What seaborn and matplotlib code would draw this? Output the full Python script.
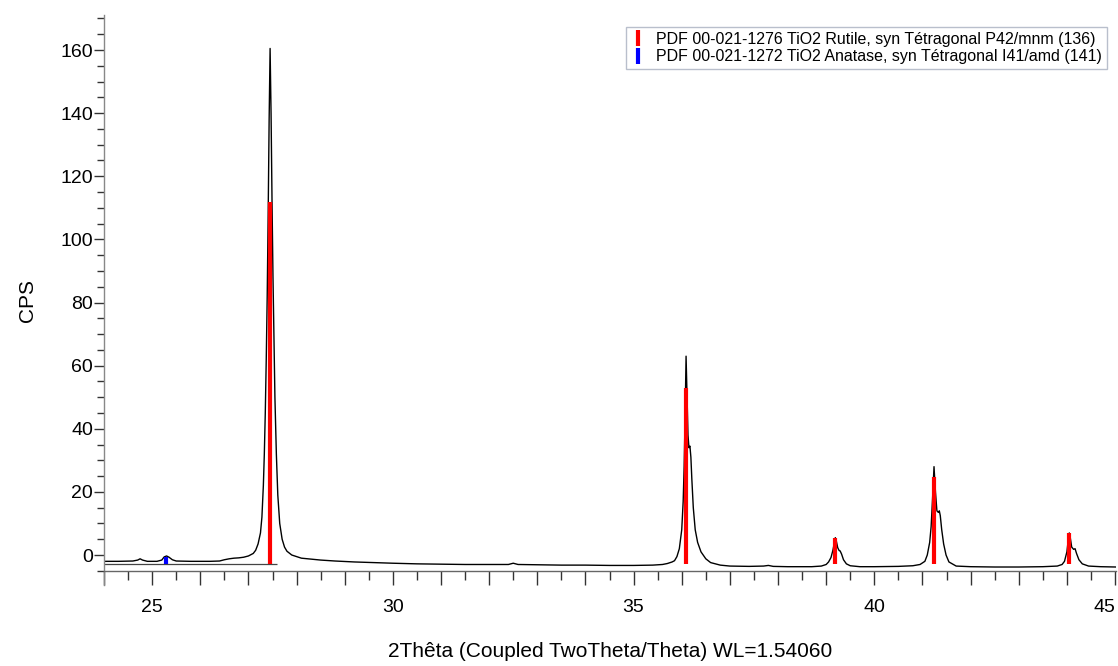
import matplotlib
matplotlib.use("Agg")
import matplotlib.pyplot as plt
from matplotlib.lines import Line2D
from matplotlib.ticker import MultipleLocator, FixedLocator
import seaborn as sns
import pandas as pd

two_theta = [
    24.00, 24.30, 24.60, 24.70, 24.75, 24.80, 24.90, 25.10, 25.20, 25.25, 25.30, 25.35, 25.42, 25.50,
    25.80, 26.20, 26.40, 26.50, 26.60, 26.70, 26.80, 26.90, 27.00, 27.10, 27.15, 27.20, 27.25, 27.28,
    27.31, 27.33, 27.35, 27.37, 27.39, 27.41, 27.43, 27.45, 27.47, 27.49, 27.51, 27.53, 27.55, 27.58,
    27.61, 27.65, 27.70, 27.75, 27.80, 27.90, 28.10, 28.50, 28.80, 29.20, 29.60, 30.00, 30.50, 31.00,
    31.50, 32.00, 32.40, 32.50, 32.60, 33.00, 33.50, 34.00, 34.50, 35.00, 35.40, 35.60, 35.70, 35.80,
    35.85, 35.90, 35.95, 36.00, 36.03, 36.05, 36.07, 36.09, 36.11, 36.13, 36.15, 36.17, 36.19, 36.21,
    36.24, 36.28, 36.33, 36.40, 36.50, 36.60, 36.80, 37.00, 37.40, 37.70, 37.80, 37.90, 38.20, 38.50,
    38.70, 38.90, 39.00, 39.05, 39.10, 39.14, 39.17, 39.19, 39.21, 39.24, 39.27, 39.29, 39.32, 39.36,
    39.42, 39.50, 39.70, 40.00, 40.50, 40.80, 40.95, 41.05, 41.10, 41.15, 41.18, 41.21, 41.24, 41.27,
    41.30, 41.33, 41.35, 41.37, 41.40, 41.44, 41.49, 41.55, 41.70, 42.00, 42.50, 43.00, 43.50, 43.80,
    43.90, 43.95, 44.00, 44.03, 44.05, 44.07, 44.10, 44.14, 44.17, 44.20, 44.25, 44.32, 44.45, 44.70,
    45.02,
]
cps = [
    -2.0, -2.0, -1.9, -1.6, -1.2, -1.6, -2.0, -2.0, -1.6, -0.6, -0.3, -0.7, -1.5, -1.9,
    -2.0, -2.0, -1.9, -1.5, -1.2, -1.0, -0.9, -0.7, -0.3, 0.5, 1.5, 3.5, 7.0, 12.0,
    22.0, 32.0, 45.0, 62.0, 82.0, 108.0, 138.0, 160.5, 140.0, 112.0, 88.0, 68.0, 50.0, 32.0,
    19.0, 10.0, 5.0, 2.5, 1.2, 0.0, -1.0, -1.6, -1.9, -2.2, -2.4, -2.6, -2.8, -2.9,
    -3.0, -3.0, -3.0, -2.6, -3.0, -3.1, -3.2, -3.2, -3.3, -3.3, -3.2, -3.0, -2.7, -2.2,
    -1.8, -0.5, 2.0, 8.0, 17.0, 28.0, 44.0, 63.0, 50.0, 38.0, 34.0, 34.5, 31.0, 24.0,
    15.0, 8.0, 4.0, 1.0, -1.2, -2.4, -3.2, -3.5, -3.6, -3.5, -3.3, -3.6, -3.7, -3.7,
    -3.7, -3.5, -3.0, -2.2, -0.8, 1.5, 4.0, 5.5, 4.5, 2.3, 1.4, 1.3, 0.3, -1.5,
    -2.8, -3.4, -3.7, -3.7, -3.6, -3.4, -3.0, -2.0, 0.0, 4.0, 9.0, 18.0, 28.0, 20.0,
    14.0, 13.5, 14.0, 12.5, 8.0, 3.5, 0.0, -2.2, -3.5, -3.7, -3.8, -3.8, -3.7, -3.5,
    -3.0, -2.0, 1.0, 5.0, 7.0, 5.5, 2.5, 1.8, 2.0, 0.5, -1.5, -2.8, -3.5, -3.7,
    -3.8,
]

# ---- reference patterns (stick positions / stick tops in CPS) ----
rutile_pos = [27.45, 36.09, 39.19, 41.23, 44.05]
rutile_top = [112.0, 53.0, 5.3, 24.8, 7.1]
anatase_pos = [25.28, 36.95, 37.80, 38.58]
anatase_top = [-0.6, -3.0, -2.7, -3.0]
stick_base = -2.8

rutile_label = "PDF 00-021-1276 TiO2 Rutile, syn Tétragonal P42/mnm (136)"
anatase_label = "PDF 00-021-1272 TiO2 Anatase, syn Tétragonal I41/amd (141)"
x_label = "2Thêta (Coupled TwoTheta/Theta) WL=1.54060"
y_label = "CPS"
x_ticklabels = [25, 30, 35, 40, 45]
y_ticklabels = [0, 20, 40, 60, 80, 100, 120, 140, 160]

sns.set_style("ticks")
plt.rcParams["font.family"] = ["Liberation Sans", "DejaVu Sans"]
plt.rcParams["text.color"] = "black"
plt.rcParams["axes.labelcolor"] = "black"
plt.rcParams["xtick.labelcolor"] = "black"
plt.rcParams["ytick.labelcolor"] = "black"

fig = plt.figure(figsize=(11.18, 6.66), dpi=100)
ax = fig.add_axes([104 / 1118, 1 - 585 / 666, (1116 - 104) / 1118, (585 - 15) / 666])

df = pd.DataFrame({"two_theta": two_theta, "cps": cps})
sns.lineplot(data=df, x="two_theta", y="cps", ax=ax, color="black", linewidth=1.0,
             estimator=None, sort=False, legend=False)

ax.hlines(stick_base, 24.0, 27.6, color="#444444", linewidth=0.9, zorder=2)
ax.vlines(rutile_pos, stick_base, rutile_top, color="#ff0000", linewidth=3.0, zorder=3)
ax.vlines(anatase_pos, stick_base, anatase_top, color="#0000ff", linewidth=3.0, zorder=3)

ax.set_xlim(24.0, 45.02)
ax.set_ylim(-9.5, 171.1)

for s in ["top", "right"]:
    ax.spines[s].set_visible(False)
ax.spines["bottom"].set_position(("data", -5.1))
ax.spines["left"].set_color("#888888")
ax.spines["bottom"].set_color("#666666")
ax.spines["left"].set_linewidth(1.0)
ax.spines["bottom"].set_linewidth(1.0)

ax.xaxis.set_major_locator(FixedLocator(list(range(24, 46))))
ax.set_xticklabels([str(v) if v in x_ticklabels else "" for v in range(24, 46)])
ax.xaxis.set_minor_locator(MultipleLocator(0.5))
ax.yaxis.set_major_locator(FixedLocator(y_ticklabels))
ax.set_yticklabels([str(v) for v in y_ticklabels])
ax.yaxis.set_minor_locator(MultipleLocator(5))

ax.tick_params(axis="x", which="major", length=10, width=1.0, color="#333333",
               labelsize=14, pad=10, labelcolor="black")
ax.tick_params(axis="x", which="minor", length=6.5, width=1.0, color="#333333")
ax.tick_params(axis="y", which="major", length=7, width=1.0, color="#333333",
               labelsize=14, pad=1, labelcolor="black")
ax.tick_params(axis="y", which="minor", length=5, width=1.0, color="#333333")

for lab in ax.get_xticklabels():
    if lab.get_text() == "45":
        lab.set_horizontalalignment("right")

ax.set_xlabel(x_label, fontsize=15, labelpad=19, color="black")
ax.set_ylabel(y_label, fontsize=15, labelpad=17, color="black")

handles = [
    Line2D([], [], marker="|", linestyle="None", color="#ff0000", markersize=11, markeredgewidth=3),
    Line2D([], [], marker="|", linestyle="None", color="#0000ff", markersize=11, markeredgewidth=3),
]
leg = fig.legend(handles, [rutile_label, anatase_label], loc="upper right",
                 bbox_to_anchor=(1107 / 1118, 1 - 27 / 666), fontsize=11.5,
                 frameon=True, fancybox=False, borderpad=0.3, labelspacing=0.15,
                 handlelength=0.9, handletextpad=0.7, borderaxespad=0)
leg.get_frame().set_edgecolor("#a8b0c0")
leg.get_frame().set_linewidth(1.0)
for t in leg.get_texts():
    t.set_color("black")

fig.savefig("out.png", dpi=100)
